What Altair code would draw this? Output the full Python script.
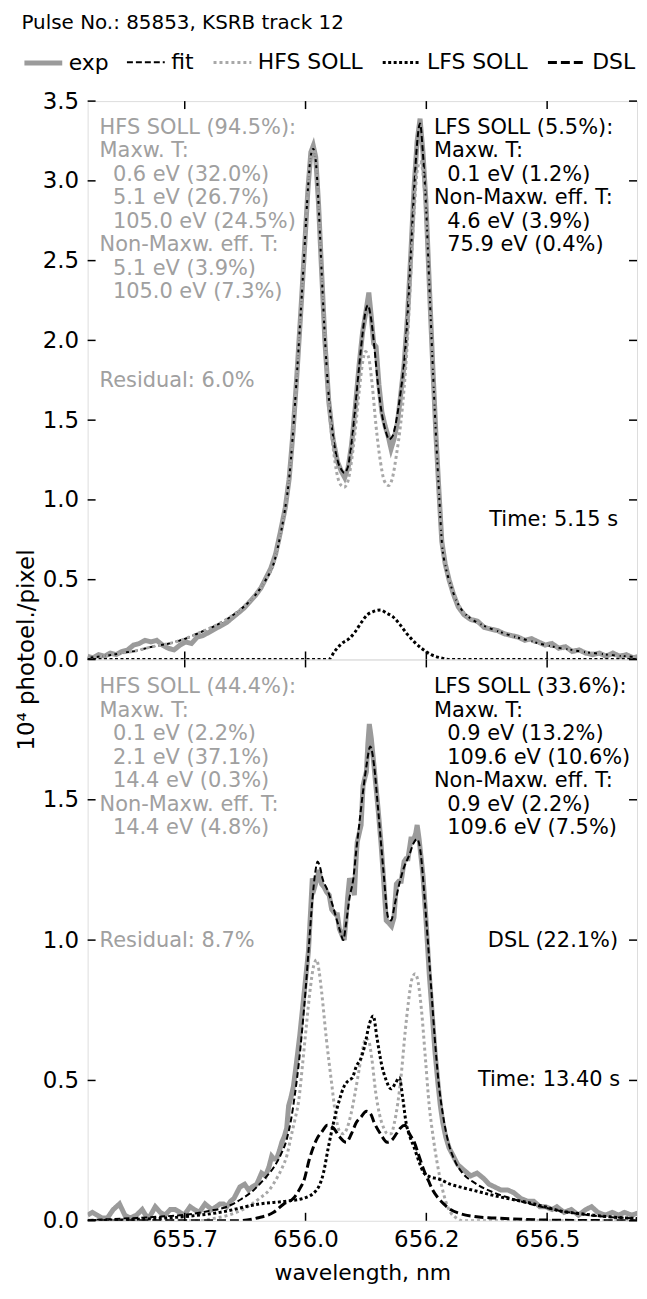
import altair as alt
import pandas as pd

# ---------------- series definition ----------------
SERIES = ["exp", "fit", "HFS SOLL", "LFS SOLL", "DSL"]
COLORS = ["#9b9b9b", "#000000", "#a8a8a8", "#000000", "#000000"]
DASHES = [[1, 0], [6, 3], [3, 3], [3, 2.5], [9, 4]]
WIDTHS = [5, 2, 3, 3, 3]
INTERP = {"exp": "linear", "fit": "monotone", "HFS SOLL": "monotone",
          "LFS SOLL": "monotone", "DSL": "monotone"}

X_DOMAIN = [655.549, 656.686]
XT_VALUES = [655.75, 656.0, 656.25, 656.5]
XT_LABELS = ["655.7", "656.0", "656.2", "656.5"]
TOP_YT = [0.0, 0.5, 1.0, 1.5, 2.0, 2.5, 3.0, 3.5]
BOT_YT = [0.0, 0.5, 1.0, 1.5]
BOT_YT_ALL = [0.0, 0.5, 1.0, 1.5, 2.0]

TITLE = "Pulse No.: 85853, KSRB track 12"
Y_TITLE = "10\u2074 photoel./pixel"
X_TITLE = "wavelength, nm"

# ---------------- top panel (5.15 s) ----------------
TOP_EXP = [
    (655.549, 0.02), (655.56, 0.01), (655.572, 0.03), (655.584, 0.02), (655.596, 0.04),
    (655.608, 0.03), (655.62, 0.05), (655.632, 0.06), (655.644, 0.09), (655.656, 0.10),
    (655.668, 0.12), (655.68, 0.11), (655.692, 0.12), (655.704, 0.09), (655.716, 0.07),
    (655.728, 0.06), (655.74, 0.09), (655.752, 0.11), (655.764, 0.10), (655.776, 0.14),
    (655.788, 0.15), (655.80, 0.17), (655.812, 0.19), (655.824, 0.21), (655.836, 0.23),
    (655.848, 0.26), (655.86, 0.29), (655.872, 0.32), (655.884, 0.36), (655.896, 0.40),
    (655.908, 0.45), (655.918, 0.51), (655.928, 0.57), (655.938, 0.66), (655.948, 0.80),
    (655.958, 0.95), (655.966, 1.13), (655.974, 1.42), (655.982, 1.78), (655.990, 2.17),
    (655.998, 2.58), (656.005, 2.95), (656.011, 3.18), (656.016, 3.22), (656.021, 3.15),
    (656.027, 2.85), (656.033, 2.45), (656.040, 2.00), (656.048, 1.62), (656.057, 1.38),
    (656.066, 1.24), (656.074, 1.18), (656.081, 1.14), (656.088, 1.20), (656.095, 1.34),
    (656.103, 1.58), (656.111, 1.85), (656.118, 2.05), (656.125, 2.18), (656.131, 2.30),
    (656.136, 2.15), (656.141, 1.98), (656.146, 1.96), (656.152, 1.72), (656.158, 1.55),
    (656.165, 1.46), (656.171, 1.40), (656.177, 1.32), (656.183, 1.38), (656.190, 1.48),
    (656.197, 1.66), (656.204, 1.85), (656.211, 2.15), (656.218, 2.55), (656.225, 2.98),
    (656.231, 3.25), (656.237, 3.39), (656.243, 3.18), (656.249, 2.88), (656.256, 2.36),
    (656.263, 1.86), (656.270, 1.40), (656.276, 1.06), (656.282, 0.74), (656.289, 0.60),
    (656.297, 0.50), (656.306, 0.41), (656.316, 0.33), (656.328, 0.28), (656.342, 0.25),
    (656.356, 0.24), (656.370, 0.20), (656.384, 0.19), (656.398, 0.18), (656.412, 0.16),
    (656.426, 0.15), (656.44, 0.14), (656.454, 0.12), (656.468, 0.13), (656.482, 0.11),
    (656.496, 0.09), (656.51, 0.10), (656.524, 0.07), (656.538, 0.08), (656.552, 0.05),
    (656.566, 0.06), (656.58, 0.04), (656.594, 0.03), (656.608, 0.04), (656.622, 0.02),
    (656.636, 0.04), (656.65, 0.02), (656.664, 0.03), (656.678, 0.01), (656.692, 0.02),
]
TOP_FIT = [
    (655.549, 0.01), (655.58, 0.02), (655.62, 0.04), (655.65, 0.055), (655.683, 0.08),
    (655.718, 0.10), (655.751, 0.13), (655.786, 0.175), (655.812, 0.21), (655.841, 0.26),
    (655.868, 0.32), (655.895, 0.40), (655.916, 0.49), (655.936, 0.62), (655.948, 0.78),
    (655.958, 0.95), (655.966, 1.13), (655.974, 1.42), (655.982, 1.78), (655.990, 2.17),
    (655.998, 2.58), (656.005, 2.95), (656.011, 3.16), (656.016, 3.20), (656.021, 3.13),
    (656.027, 2.85), (656.033, 2.45), (656.040, 2.02), (656.048, 1.65), (656.057, 1.40),
    (656.066, 1.25), (656.074, 1.19), (656.080, 1.17), (656.087, 1.20), (656.095, 1.35),
    (656.103, 1.58), (656.111, 1.84), (656.118, 2.04), (656.124, 2.18), (656.129, 2.22),
    (656.135, 2.15), (656.142, 1.97), (656.150, 1.72), (656.158, 1.54), (656.166, 1.43),
    (656.173, 1.38), (656.180, 1.40), (656.188, 1.50), (656.197, 1.68), (656.204, 1.86),
    (656.211, 2.15), (656.218, 2.55), (656.225, 2.96), (656.231, 3.24), (656.237, 3.36),
    (656.243, 3.17), (656.249, 2.87), (656.256, 2.36), (656.263, 1.86), (656.270, 1.40),
    (656.276, 1.06), (656.282, 0.74), (656.290, 0.58), (656.300, 0.47), (656.312, 0.37),
    (656.326, 0.30), (656.345, 0.25), (656.37, 0.21), (656.40, 0.175), (656.43, 0.145),
    (656.46, 0.12), (656.49, 0.095), (656.52, 0.075), (656.55, 0.06), (656.58, 0.045),
    (656.61, 0.035), (656.64, 0.025), (656.67, 0.018), (656.692, 0.014),
]
TOP_HFS = [
    (655.549, 0.01), (655.58, 0.02), (655.62, 0.04), (655.65, 0.055), (655.683, 0.08),
    (655.718, 0.10), (655.751, 0.13), (655.786, 0.175), (655.812, 0.21), (655.841, 0.26),
    (655.868, 0.32), (655.895, 0.40), (655.916, 0.49), (655.936, 0.62), (655.948, 0.78),
    (655.958, 0.95), (655.966, 1.13), (655.974, 1.42), (655.982, 1.78), (655.990, 2.17),
    (655.998, 2.58), (656.005, 2.95), (656.011, 3.16), (656.016, 3.20), (656.021, 3.13),
    (656.027, 2.85), (656.033, 2.45), (656.040, 2.02), (656.048, 1.60), (656.057, 1.33),
    (656.066, 1.15), (656.074, 1.09), (656.080, 1.08), (656.087, 1.11), (656.095, 1.24),
    (656.103, 1.44), (656.111, 1.68), (656.118, 1.86), (656.124, 1.93), (656.130, 1.90),
    (656.138, 1.72), (656.146, 1.46), (656.155, 1.24), (656.163, 1.12), (656.172, 1.09),
    (656.180, 1.14), (656.188, 1.28), (656.197, 1.48), (656.204, 1.70), (656.211, 2.00),
    (656.218, 2.42), (656.225, 2.82), (656.231, 3.06), (656.237, 3.12), (656.243, 3.05),
    (656.249, 2.80), (656.256, 2.30), (656.263, 1.82), (656.270, 1.38), (656.276, 1.05),
    (656.282, 0.74), (656.290, 0.58), (656.300, 0.47), (656.312, 0.37), (656.326, 0.30),
    (656.345, 0.25), (656.37, 0.21), (656.40, 0.175), (656.43, 0.145), (656.46, 0.12),
    (656.49, 0.095), (656.52, 0.075), (656.55, 0.06), (656.58, 0.045), (656.61, 0.035),
    (656.64, 0.025), (656.67, 0.018), (656.692, 0.014),
]
TOP_LFS = [
    (655.549, 0.0), (655.80, 0.0), (656.048, 0.0), (656.06, 0.05), (656.075, 0.10),
    (656.09, 0.13), (656.102, 0.17), (656.115, 0.23), (656.128, 0.28), (656.14, 0.30),
    (656.155, 0.31), (656.168, 0.29), (656.18, 0.27), (656.195, 0.22), (656.21, 0.16),
    (656.225, 0.11), (656.24, 0.07), (656.26, 0.03), (656.28, 0.01), (656.30, 0.0),
    (656.50, 0.0), (656.692, 0.0),
]

# ---------------- bottom panel (13.40 s) ----------------
BOT_EXP = [
    (655.549, 0.02), (655.559, 0.03), (655.569, 0.02), (655.579, 0.01), (655.590, 0.01),
    (655.602, 0.04), (655.615, 0.06), (655.626, 0.02), (655.637, 0.01), (655.650, 0.02),
    (655.662, 0.04), (655.669, 0.02), (655.676, 0.01), (655.689, 0.05), (655.699, 0.03),
    (655.709, 0.02), (655.72, 0.04), (655.730, 0.04), (655.740, 0.03), (655.749, 0.02),
    (655.761, 0.05), (655.770, 0.04), (655.780, 0.03), (655.792, 0.06), (655.799, 0.05),
    (655.806, 0.04), (655.815, 0.05), (655.823, 0.06), (655.830, 0.06), (655.837, 0.05),
    (655.845, 0.07), (655.852, 0.08), (655.858, 0.10), (655.864, 0.12), (655.874, 0.13),
    (655.882, 0.11), (655.889, 0.12), (655.899, 0.13), (655.909, 0.17), (655.917, 0.16),
    (655.924, 0.19), (655.930, 0.23), (655.935, 0.22), (655.940, 0.22), (655.946, 0.25),
    (655.951, 0.28), (655.956, 0.30), (655.961, 0.33), (655.965, 0.41), (655.970, 0.44),
    (655.975, 0.48), (655.981, 0.56), (655.988, 0.66), (655.994, 0.76), (656.000, 0.86),
    (656.006, 0.96), (656.011, 1.12), (656.014, 1.22), (656.019, 1.19), (656.024, 1.22),
    (656.028, 1.25), (656.033, 1.20), (656.038, 1.19), (656.044, 1.17), (656.049, 1.16),
    (656.054, 1.11), (656.058, 1.10), (656.063, 1.09), (656.066, 1.09), (656.070, 1.04),
    (656.075, 1.02), (656.080, 1.00), (656.084, 1.08), (656.087, 1.15), (656.091, 1.22),
    (656.096, 1.20), (656.101, 1.16), (656.105, 1.30), (656.107, 1.35), (656.111, 1.38),
    (656.115, 1.41), (656.119, 1.55), (656.123, 1.58), (656.126, 1.60), (656.129, 1.70),
    (656.132, 1.77), (656.136, 1.72), (656.140, 1.65), (656.145, 1.56), (656.150, 1.47),
    (656.156, 1.35), (656.161, 1.23), (656.167, 1.07), (656.173, 1.06), (656.178, 1.05),
    (656.183, 1.08), (656.188, 1.20), (656.193, 1.21), (656.198, 1.21), (656.204, 1.28),
    (656.208, 1.29), (656.212, 1.29), (656.218, 1.36), (656.224, 1.36), (656.228, 1.38),
    (656.231, 1.41), (656.235, 1.36), (656.240, 1.28), (656.243, 1.23), (656.249, 1.08),
    (656.256, 0.88), (656.262, 0.74), (656.268, 0.60), (656.274, 0.49), (656.279, 0.41),
    (656.284, 0.35), (656.290, 0.30), (656.297, 0.26), (656.306, 0.23), (656.315, 0.20),
    (656.328, 0.18), (656.342, 0.16), (656.355, 0.17), (656.369, 0.15), (656.380, 0.13),
    (656.392, 0.12), (656.404, 0.11), (656.418, 0.11), (656.431, 0.10), (656.445, 0.08),
    (656.459, 0.07), (656.472, 0.07), (656.485, 0.05), (656.497, 0.05), (656.51, 0.04),
    (656.52, 0.05), (656.535, 0.03), (656.55, 0.04), (656.565, 0.02), (656.58, 0.04),
    (656.592, 0.05), (656.605, 0.03), (656.62, 0.02), (656.635, 0.03), (656.648, 0.02),
    (656.66, 0.03), (656.675, 0.02), (656.692, 0.03),
]
BOT_FIT = [
    (655.549, 0.003), (655.60, 0.006), (655.65, 0.01), (655.70, 0.015), (655.755, 0.022),
    (655.80, 0.035), (655.837, 0.05), (655.865, 0.075), (655.893, 0.11), (655.915, 0.15),
    (655.934, 0.19), (655.950, 0.24), (655.961, 0.29), (655.970, 0.36), (655.978, 0.45),
    (655.986, 0.56), (655.993, 0.68), (656.000, 0.82), (656.007, 0.98), (656.014, 1.14),
    (656.020, 1.24), (656.025, 1.28), (656.030, 1.26), (656.035, 1.22), (656.045, 1.18),
    (656.055, 1.13), (656.065, 1.07), (656.072, 1.03), (656.078, 1.00), (656.084, 1.06),
    (656.091, 1.15), (656.099, 1.22), (656.105, 1.32), (656.111, 1.41), (656.119, 1.53),
    (656.126, 1.62), (656.134, 1.69), (656.142, 1.62), (656.150, 1.47), (656.161, 1.25),
    (656.171, 1.08), (656.177, 1.07), (656.185, 1.13), (656.194, 1.20), (656.204, 1.26),
    (656.214, 1.30), (656.225, 1.35), (656.231, 1.36), (656.239, 1.30), (656.245, 1.18),
    (656.253, 1.00), (656.260, 0.83), (656.267, 0.66), (656.275, 0.50), (656.286, 0.36),
    (656.297, 0.27), (656.310, 0.21), (656.325, 0.17), (656.35, 0.135), (656.39, 0.10),
    (656.425, 0.08), (656.46, 0.062), (656.495, 0.047), (656.527, 0.035), (656.56, 0.026),
    (656.596, 0.018), (656.63, 0.013), (656.665, 0.01), (656.692, 0.008),
]
BOT_HFS = [
    (655.549, 0.0), (655.78, 0.0), (655.81, 0.008), (655.84, 0.02), (655.87, 0.04),
    (655.905, 0.08), (655.925, 0.11), (655.94, 0.15), (655.952, 0.19), (655.961, 0.23),
    (655.970, 0.30), (655.978, 0.36), (655.986, 0.43), (655.994, 0.56), (656.002, 0.70),
    (656.010, 0.83), (656.017, 0.91), (656.023, 0.93), (656.028, 0.89), (656.033, 0.82),
    (656.043, 0.65), (656.054, 0.49), (656.062, 0.38), (656.070, 0.32), (656.078, 0.31),
    (656.086, 0.33), (656.094, 0.38), (656.102, 0.45), (656.110, 0.53), (656.118, 0.61),
    (656.125, 0.65), (656.131, 0.64), (656.137, 0.58), (656.145, 0.46), (656.153, 0.38),
    (656.162, 0.33), (656.170, 0.31), (656.177, 0.31), (656.184, 0.35), (656.191, 0.42),
    (656.198, 0.52), (656.206, 0.67), (656.213, 0.78), (656.220, 0.86), (656.227, 0.88),
    (656.233, 0.85), (656.240, 0.75), (656.248, 0.58), (656.256, 0.41), (656.264, 0.30),
    (656.272, 0.21), (656.281, 0.13), (656.290, 0.07), (656.300, 0.03), (656.312, 0.01),
    (656.325, 0.0), (656.50, 0.0), (656.692, 0.0),
]
BOT_LFS = [
    (655.549, 0.0), (655.65, 0.005), (655.75, 0.015), (655.823, 0.03), (655.905, 0.06),
    (655.961, 0.07), (655.996, 0.08), (656.023, 0.11), (656.037, 0.17), (656.047, 0.26),
    (656.058, 0.35), (656.070, 0.43), (656.080, 0.48), (656.089, 0.50), (656.097, 0.51),
    (656.105, 0.55), (656.115, 0.58), (656.122, 0.62), (656.132, 0.70), (656.140, 0.73),
    (656.148, 0.65), (656.157, 0.56), (656.167, 0.50), (656.177, 0.47), (656.186, 0.49),
    (656.194, 0.51), (656.201, 0.44), (656.208, 0.35), (656.216, 0.30), (656.225, 0.26),
    (656.235, 0.21), (656.245, 0.17), (656.26, 0.155), (656.274, 0.15), (656.30, 0.13),
    (656.321, 0.12), (656.355, 0.105), (656.39, 0.09), (656.425, 0.077), (656.46, 0.065),
    (656.495, 0.05), (656.527, 0.035), (656.56, 0.027), (656.596, 0.02), (656.63, 0.014),
    (656.665, 0.01), (656.692, 0.008),
]
BOT_DSL = [
    (655.549, 0.0), (655.70, 0.0), (655.86, 0.0), (655.90, 0.01), (655.934, 0.03),
    (655.955, 0.06), (655.975, 0.08), (655.99, 0.12), (655.996, 0.14), (656.008, 0.22),
    (656.023, 0.29), (656.035, 0.32), (656.045, 0.34), (656.058, 0.33), (656.070, 0.30),
    (656.084, 0.28), (656.095, 0.31), (656.105, 0.35), (656.115, 0.37), (656.126, 0.39),
    (656.135, 0.38), (656.142, 0.35), (656.155, 0.31), (656.169, 0.28), (656.18, 0.29),
    (656.188, 0.31), (656.196, 0.33), (656.206, 0.34), (656.215, 0.31), (656.225, 0.28),
    (656.235, 0.23), (656.245, 0.18), (656.255, 0.14), (656.263, 0.11), (656.275, 0.08),
    (656.286, 0.06), (656.30, 0.04), (656.321, 0.025), (656.35, 0.015), (656.39, 0.01),
    (656.45, 0.005), (656.52, 0.002), (656.692, 0.0),
]

# ---------------- annotation texts (indent flag, text) ----------------
TOP_HFS_TXT = [(0, "HFS SOLL (94.5%):"), (0, "Maxw. T:"), (1, "0.6 eV (32.0%)"),
               (1, "5.1 eV (26.7%)"), (1, "105.0 eV (24.5%)"), (0, "Non-Maxw. eff. T:"),
               (1, "5.1 eV (3.9%)"), (1, "105.0 eV (7.3%)")]
TOP_LFS_TXT = [(0, "LFS SOLL (5.5%):"), (0, "Maxw. T:"), (1, "0.1 eV (1.2%)"),
               (0, "Non-Maxw. eff. T:"), (1, "4.6 eV (3.9%)"), (1, "75.9 eV (0.4%)")]
TOP_RESID = "Residual: 6.0%"
TOP_TIME = "Time: 5.15 s"
BOT_HFS_TXT = [(0, "HFS SOLL (44.4%):"), (0, "Maxw. T:"), (1, "0.1 eV (2.2%)"),
               (1, "2.1 eV (37.1%)"), (1, "14.4 eV (0.3%)"), (0, "Non-Maxw. eff. T:"),
               (1, "14.4 eV (4.8%)")]
BOT_LFS_TXT = [(0, "LFS SOLL (33.6%):"), (0, "Maxw. T:"), (1, "0.9 eV (13.2%)"),
               (1, "109.6 eV (10.6%)"), (0, "Non-Maxw. eff. T:"), (1, "0.9 eV (2.2%)"),
               (1, "109.6 eV (7.5%)")]
BOT_RESID = "Residual: 8.7%"
BOT_DSL_TXT = "DSL (22.1%)"
BOT_TIME = "Time: 13.40 s"

# ---------------- layout constants ----------------
W, H1, H2 = 552, 561, 564
TICK = 8
FONT = "DejaVu Sans"
FS = 21
TFS = 23
LH = 23.6
INDENT = 13.4
GRAY_TXT = "#a0a0a0"


def to_df(curves):
    rows = []
    for name, pts in curves:
        for i, (wl, v) in enumerate(pts):
            rows.append({"wl": wl, "val": v, "series": name, "i": i})
    return pd.DataFrame(rows)


LEG = alt.Legend(orient="none", legendX=-66, legendY=-60, direction="horizontal",
                 columns=5, title=None, symbolType="stroke", symbolSize=1444,
                 labelFontSize=22, labelFont=FONT, labelColor="black",
                 columnPadding=13, labelOffset=4)

label_expr = " : ".join(
    f"abs(datum.value - {v}) < 0.001 ? '{lab}'" for v, lab in zip(XT_VALUES, XT_LABELS)
) + " : ''"

xscale = alt.Scale(domain=X_DOMAIN, nice=False, zero=False)


def text_layer(text, x, y, color, align="left"):
    return alt.Chart(pd.DataFrame({"k": [0]})).mark_text(
        align=align, baseline="alphabetic", fontSize=FS, font=FONT, color=color
    ).encode(x=alt.value(x), y=alt.value(y), text=alt.value(text))


def text_block(items, x, y, color):
    return [text_layer(t, x + ind * INDENT, y + k * LH, color)
            for k, (ind, t) in enumerate(items)]


def panel(curves, H, ydomain, yticks, yticks_all, bottom, texts):
    df = to_df(curves)
    yscale = alt.Scale(domain=ydomain, nice=False, zero=False)
    if bottom:
        X = alt.X("wl:Q", scale=xscale,
                  axis=alt.Axis(values=XT_VALUES, labelExpr=label_expr, ticks=False,
                                tickSize=0, domain=False, grid=False, labelFontSize=TFS,
                                labelFont=FONT, labelColor="black", labelPadding=8,
                                title=X_TITLE, titleFontSize=FS + 1, titleFont=FONT,
                                titleFontWeight="normal", titlePadding=11,
                                titleColor="black"))
        Y = alt.Y("val:Q", scale=yscale,
                  axis=alt.Axis(values=yticks, format=".1f", ticks=False, tickSize=0,
                                domain=False, grid=False, labelFontSize=TFS,
                                labelFont=FONT, labelColor="black", labelPadding=9,
                                title=None))
    else:
        X = alt.X("wl:Q", scale=xscale, axis=None)
        Y = alt.Y("val:Q", scale=yscale,
                  axis=alt.Axis(values=yticks, format=".1f", ticks=False, tickSize=0,
                                domain=False, grid=False, labelFontSize=TFS,
                                labelFont=FONT, labelColor="black", labelPadding=9,
                                title=Y_TITLE, titleFontSize=23, titleFont=FONT,
                                titleFontWeight="normal", titleColor="black",
                                titleAngle=270, titleX=-61, titleY=H - 10,
                                titleAlign="center", titleBaseline="middle"))

    enc = dict(
        x=X, y=Y,
        color=alt.Color("series:N", scale=alt.Scale(domain=SERIES, range=COLORS), legend=LEG),
        strokeDash=alt.StrokeDash("series:N", scale=alt.Scale(domain=SERIES, range=DASHES),
                                  legend=LEG),
        strokeWidth=alt.StrokeWidth("series:N",
                                    scale=alt.Scale(type="ordinal", domain=SERIES, range=WIDTHS),
                                    legend=LEG),
        order="i:Q",
    )
    layers = []
    for name, _ in curves:
        layers.append(
            alt.Chart(df).transform_filter(alt.datum.series == name)
            .mark_line(interpolate=INTERP[name], clip=True)
            .encode(**enc)
        )
    # inward ticks
    ydf = pd.DataFrame({"val": yticks_all})
    xdf = pd.DataFrame({"wl": XT_VALUES})
    rule = dict(color="black", strokeWidth=1.5)
    layers.append(alt.Chart(ydf).mark_rule(**rule).encode(y=Y, x=alt.value(0), x2=alt.value(TICK)))
    layers.append(alt.Chart(ydf).mark_rule(**rule).encode(y=Y, x=alt.value(W - TICK), x2=alt.value(W)))
    layers.append(alt.Chart(xdf).mark_rule(**rule).encode(x=X, y=alt.value(H - TICK), y2=alt.value(H)))
    layers.append(alt.Chart(xdf).mark_rule(**rule).encode(x=X, y=alt.value(0), y2=alt.value(TICK)))
    layers.extend(texts)
    return alt.layer(*layers).properties(width=W, height=H)


top = panel(
    [("exp", TOP_EXP), ("fit", TOP_FIT), ("HFS SOLL", TOP_HFS), ("LFS SOLL", TOP_LFS)],
    H1, [0, 3.5], TOP_YT, TOP_YT, False,
    text_block(TOP_HFS_TXT, 12, 33, GRAY_TXT)
    + text_block(TOP_LFS_TXT, 348, 33, "black")
    + [
        text_layer(TOP_RESID, 12, 287, GRAY_TXT),
        text_layer(TOP_TIME, 533, 427, "black", "right"),
    ],
)
bottom = panel(
    [("exp", BOT_EXP), ("fit", BOT_FIT), ("HFS SOLL", BOT_HFS), ("LFS SOLL", BOT_LFS),
     ("DSL", BOT_DSL)],
    H2, [0, 2.0], BOT_YT, BOT_YT_ALL, True,
    text_block(BOT_HFS_TXT, 12, 34, GRAY_TXT)
    + text_block(BOT_LFS_TXT, 348, 34, "black")
    + [
        text_layer(BOT_RESID, 12, 289, GRAY_TXT),
        text_layer(BOT_DSL_TXT, 533, 289, "black", "right"),
        text_layer(BOT_TIME, 535, 429, "black", "right"),
    ],
)

chart = alt.vconcat(top, bottom, spacing=0, bounds="flush").properties(
    title=alt.TitleParams(text=TITLE, anchor="start", fontSize=20, fontWeight="normal",
                          font=FONT, color="black", offset=8, dx=6),
    padding={"left": 7, "top": 2.5, "right": 0, "bottom": 0},
).configure_view(stroke="black", strokeWidth=1.5).configure(background="white")

chart.save("out.html", embed_options={"renderer": "svg", "actions": False})
